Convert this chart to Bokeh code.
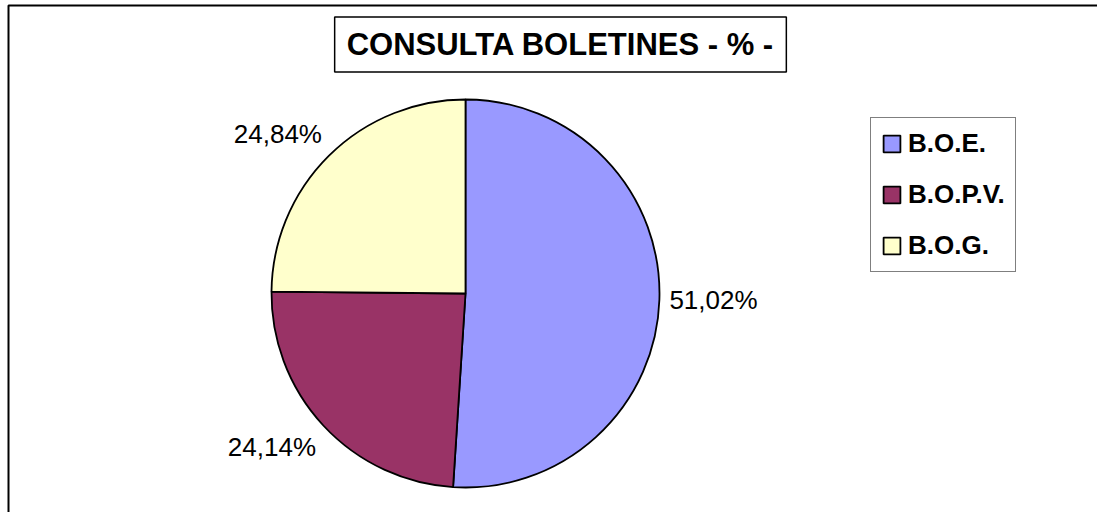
import math
from bokeh.plotting import figure
from bokeh.models import Range1d, Label, Legend, LegendItem, BoxAnnotation, ColumnDataSource
from bokeh.embed import file_html
from bokeh.resources import INLINE

# ---- data ----
categories = ["B.O.E.", "B.O.P.V.", "B.O.G."]
values = [51.02, 24.14, 24.84]
colors = ["#9999FF", "#993366", "#FFFFCC"]
title_text = "CONSULTA BOLETINES - % -"

# ---- layout constants (pixels == data units) ----
W, H = 1097, 512
CX, CY, R = 465, 219, 194
FONT = "Liberation Sans"

p = figure(width=W, height=H, output_backend="svg", toolbar_location=None,
           x_range=Range1d(0, W), y_range=Range1d(0, H),
           min_border=0, outline_line_color=None)
p.axis.visible = False
p.grid.visible = False
p.background_fill_color = "white"
p.border_fill_color = "white"

total = sum(values)
starts, ends = [], []
cum = 0.0
for v in values:
    starts.append(math.pi / 2 - 2 * math.pi * cum / total)
    cum += v
    ends.append(math.pi / 2 - 2 * math.pi * cum / total)

src = ColumnDataSource(dict(cat=categories, val=values, color=colors,
                            start=starts, end=ends,
                            x=[CX] * len(values), y=[CY] * len(values)))
wr = p.wedge(x="x", y="y", radius=R, start_angle="start", end_angle="end",
             direction="clock", fill_color="color", line_color="black",
             line_width=1.8, source=src)

# data labels
for v, s, e in zip(values, starts, ends):
    mid = (s + e) / 2
    ux, uy = math.cos(mid), math.sin(mid)
    ax, ay = CX + (R + 10) * ux, CY + (R + 10) * uy
    align = "left" if ux > 0.3 else ("right" if ux < -0.3 else "center")
    base = "bottom" if uy > 0.3 else ("top" if uy < -0.3 else "middle")
    txt = f"{v:.2f}".replace(".", ",") + "%"
    p.add_layout(Label(x=ax, y=ay, text=txt, text_align=align, text_baseline=base,
                       text_font=FONT, text_font_size="26px", text_color="black"))

# title box
p.add_layout(Label(x=560, y=468, text=title_text, text_align="center",
                   text_baseline="middle", text_font=FONT, text_font_size="31px",
                   text_font_style="bold", text_color="black",
                   border_line_color="black", border_line_width=1.5,
                   background_fill_color="white", padding=(12, 10)))

# legend
items = [LegendItem(label=c, renderers=[wr], index=i) for i, c in enumerate(categories)]
legend = Legend(items=items, location=(870, 240), orientation="vertical",
                label_text_font=FONT, label_text_font_size="26px",
                label_text_color="black",
                label_text_font_style="bold", glyph_width=21, glyph_height=21,
                label_standoff=6, spacing=20, padding=10, margin=0,
                border_line_color="black", border_line_width=1.5,
                background_fill_color="white", background_fill_alpha=1.0)
p.add_layout(legend, "center")

# chart-area border (top and left visible in the window)
p.add_layout(BoxAnnotation(left=8, right=W + 20, top=507, bottom=-20,
                           fill_alpha=0, line_color="black", line_alpha=1.0,
                           line_width=2))

open("out.html", "w").write(file_html(p, INLINE))
